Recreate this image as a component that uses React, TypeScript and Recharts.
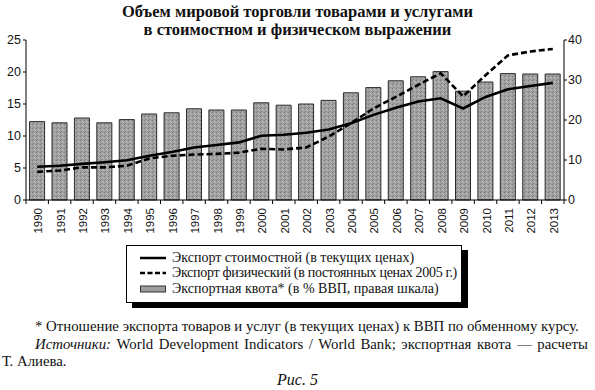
import React from "react";
import { ComposedChart, Bar, Line, XAxis, YAxis, Legend } from "recharts";

const years = ["1990","1991","1992","1993","1994","1995","1996","1997","1998","1999","2000","2001","2002","2003","2004","2005","2006","2007","2008","2009","2010","2011","2012","2013"];
const exportNominal = [5.2,5.35,5.65,5.9,6.2,6.9,7.5,8.2,8.6,9.0,10.05,10.2,10.5,11.0,12.0,13.3,14.4,15.4,15.9,14.3,16.1,17.3,17.8,18.3];
const exportReal = [4.4,4.6,5.1,5.1,5.35,6.5,6.9,7.1,7.2,7.4,8.0,7.9,8.2,9.9,12.0,14.3,16.1,18.0,19.8,16.2,19.5,22.6,23.2,23.6];
const exportQuota = [19.6,19.3,20.5,19.3,20.1,21.5,21.8,22.8,22.5,22.5,24.3,23.7,24.0,24.9,26.8,28.1,29.8,30.8,32.1,27.2,29.5,31.6,31.5,31.5];
const leftTicks = [0,5,10,15,20,25];
const rightTicks = [0,10,20,30,40];

const legendLabels = [
  "Экспорт стоимостной (в текущих ценах)",
  "Экспорт физический (в постоянных ценах 2005 г.)",
  "Экспортная квота* (в % ВВП, правая шкала)",
];

const data = years.map((y, i) => ({
  year: y,
  nominal: exportNominal[i],
  real: exportReal[i],
  quota: exportQuota[i],
}));

const CHART_W = 595;
const CHART_H = 310;
const LEFT_AXIS_W = 26;
const RIGHT_AXIS_W = 31;
const PLOT_W = CHART_W - LEFT_AXIS_W - RIGHT_AXIS_W;
const BAND = PLOT_W / years.length;

const sans = "'Liberation Sans', Arial, sans-serif";
const serif = "'Liberation Serif', 'Times New Roman', serif";

const YearTick = (props: any) => {
  const { x, y, payload, index } = props;
  const half = BAND / 2;
  return (
    <g>
      <line x1={x - half} x2={x - half} y1={y} y2={y + 4} stroke="#000" strokeWidth={1} />
      {index === years.length - 1 && (
        <line x1={x + half} x2={x + half} y1={y} y2={y + 4} stroke="#000" strokeWidth={1} />
      )}
      <text
        transform={`translate(${x + 1},${y + 8}) rotate(-90)`}
        textAnchor="end"
        dominantBaseline="central"
        fontFamily={sans}
        fontSize={11.5}
        fill="#111"
      >
        {payload.value}
      </text>
    </g>
  );
};

const renderLegend = () => (
  <div
    style={{
      boxSizing: "border-box",
      width: 336,
      height: 58,
      border: "1.5px solid #000",
      boxShadow: "6px 5px 0 #000",
      background: "#fff",
      paddingTop: 4,
      fontFamily: serif,
      fontSize: 14,
      color: "#111",
      textAlign: "left",
    }}
  >
    {legendLabels.map((label, i) => (
      <div key={i} style={{ display: "flex", alignItems: "center", height: 15.5, marginLeft: 13 }}>
        <svg width={26} height={10} style={{ marginRight: 6, flexShrink: 0 }}>
          {i === 0 && <line x1={0} x2={26} y1={5} y2={5} stroke="#000" strokeWidth={2.5} />}
          {i === 1 && <line x1={0} x2={26} y1={5} y2={5} stroke="#000" strokeWidth={2.5} strokeDasharray="5 2.5" />}
          {i === 2 && <rect x={0.5} y={2} width={25} height={6} fill="#9e9e9e" stroke="#333" strokeWidth={1} />}
        </svg>
        <span
          style={{
            whiteSpace: "nowrap",
            fontFamily: serif,
            fontSize: 14,
            letterSpacing: i === 1 ? -0.3 : 0,
          }}
        >
          {label}
        </span>
      </div>
    ))}
  </div>
);

export default function App() {
  return (
    <div style={{ position: "absolute", left: 0, top: 0, width: 595, height: 390, background: "#fff" }}>
      <div
        style={{
          position: "absolute",
          left: 0,
          top: 3,
          width: 595,
          textAlign: "center",
          fontFamily: serif,
          fontWeight: "bold",
          fontSize: 16.5,
          lineHeight: "18px",
          color: "#111",
        }}
      >
        <div>Объем мировой торговли товарами и услугами</div>
        <div>в стоимостном и физическом выражении</div>
      </div>
      <div style={{ position: "absolute", left: 0, top: 0 }}>
        <ComposedChart
          width={CHART_W}
          height={CHART_H}
          data={data}
          margin={{ top: 40, right: 0, bottom: 70, left: 0 }}
          barCategoryGap="16%"
        >
          <defs>
            <pattern id="stipple" width="4" height="4" patternUnits="userSpaceOnUse">
              <rect width="4" height="4" fill="#a0a0a0" />
              <rect x="0" y="0" width="1" height="1" fill="#7a7a7a" />
              <rect x="2" y="1" width="1" height="1" fill="#c6c6c6" />
              <rect x="1" y="3" width="1" height="1" fill="#888888" />
              <rect x="3" y="2" width="1" height="1" fill="#b4b4b4" />
            </pattern>
          </defs>
          <XAxis
            dataKey="year"
            interval={0}
            height={40}
            tickLine={false}
            tickSize={0}
            tickMargin={0}
            axisLine={{ stroke: "#000", strokeWidth: 1 }}
            tick={<YearTick />}
          />
          <YAxis
            yAxisId="left"
            orientation="left"
            width={LEFT_AXIS_W}
            domain={[0, 25]}
            ticks={leftTicks}
            interval={0}
            tickSize={3}
            tickMargin={2}
            axisLine={{ stroke: "#000", strokeWidth: 1 }}
            tickLine={{ stroke: "#000", strokeWidth: 1 }}
            tick={{ fontFamily: sans, fontSize: 12.5, fill: "#111" }}
          />
          <YAxis
            yAxisId="right"
            orientation="right"
            width={RIGHT_AXIS_W}
            domain={[0, 40]}
            ticks={rightTicks}
            interval={0}
            tickSize={3}
            tickMargin={1}
            axisLine={{ stroke: "#000", strokeWidth: 1 }}
            tickLine={{ stroke: "#000", strokeWidth: 1 }}
            tick={{ fontFamily: sans, fontSize: 12.5, fill: "#111", textAnchor: "start" }}
          />
          <Bar
            yAxisId="right"
            dataKey="quota"
            name={legendLabels[2]}
            fill="url(#stipple)"
            stroke="#2a2a2a"
            strokeWidth={1}
            isAnimationActive={false}
          />
          <Line
            yAxisId="left"
            type="linear"
            dataKey="nominal"
            name={legendLabels[0]}
            stroke="#000"
            strokeWidth={2.6}
            dot={false}
            activeDot={false}
            isAnimationActive={false}
          />
          <Line
            yAxisId="left"
            type="linear"
            dataKey="real"
            name={legendLabels[1]}
            stroke="#000"
            strokeWidth={2.6}
            strokeDasharray="6 3"
            dot={false}
            activeDot={false}
            isAnimationActive={false}
          />
          <Legend
            layout="vertical"
            align="center"
            verticalAlign="middle"
            content={renderLegend}
            wrapperStyle={{ left: 126, top: 245, width: 336, height: 58, fontFamily: serif }}
          />
        </ComposedChart>
      </div>
      <div
        style={{
          position: "absolute",
          left: 0,
          top: 318,
          width: 595,
          fontFamily: serif,
          fontSize: 14.8,
          lineHeight: "17.5px",
          color: "#111",
        }}
      >
        <div style={{ paddingLeft: 35, whiteSpace: "nowrap" }}>
          * Отношение экспорта товаров и услуг (в текущих ценах) к ВВП по обменному курсу.
        </div>
        <div style={{ paddingLeft: 35, width: 553, textAlign: "justify", textAlignLast: "justify", whiteSpace: "nowrap" }}>
          <i>Источники:</i> World Development Indicators / World Bank; экспортная квота — расчеты
        </div>
        <div style={{ paddingLeft: 2 }}>Т. Алиева.</div>
      </div>
      <div
        style={{
          position: "absolute",
          left: 0,
          top: 371,
          width: 595,
          textAlign: "center",
          fontFamily: serif,
          fontStyle: "italic",
          fontSize: 16,
          lineHeight: "18px",
          color: "#111",
        }}
      >
        Рис. 5
      </div>
    </div>
  );
}
